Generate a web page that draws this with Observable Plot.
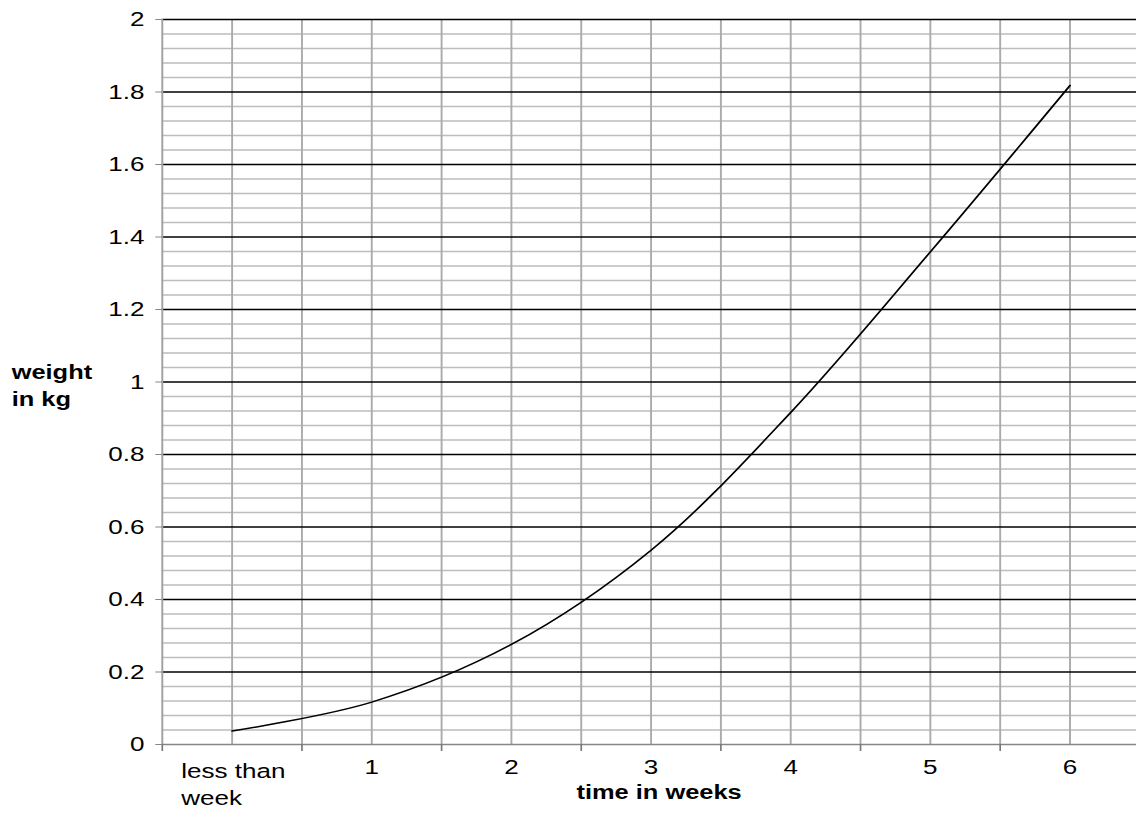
<!DOCTYPE html>
<html>
<head>
<meta charset="utf-8">
<script src="https://cdn.jsdelivr.net/npm/d3@7"></script>
<script src="https://cdn.jsdelivr.net/npm/@observablehq/plot@0.6"></script>
<style>
  html, body { margin: 0; padding: 0; overflow: hidden; background: #fff; }
  #chart { width: 897px; transform: scaleX(1.27); transform-origin: 0 0; }
</style>
</head>
<body>
<div id="chart"></div>
<script>
// ---- data ----
const categories = ["less than\nweek", "1", "2", "3", "4", "5", "6"];
const weekIndex = [0, 1, 2, 3, 4, 5, 6];
const weightKg = [0.037, 0.117, 0.276, 0.536, 0.916, 1.359, 1.818];
const yTicks = [0, 0.2, 0.4, 0.6, 0.8, 1, 1.2, 1.4, 1.6, 1.8, 2];
const yTickLabels = ["0", "0.2", "0.4", "0.6", "0.8", "1", "1.2", "1.4", "1.6", "1.8", "2"];
const xBoundaries = [-0.5, 0.5, 1.5, 2.5, 3.5, 4.5, 5.5];
const yTitle = "weight\nin kg";
const xTitle = "time in weeks";

const points = weekIndex.map((w, i) => ({x: w, y: weightKg[i]}));
const labels = weekIndex.map((w, i) => ({x: w, label: categories[i]}));
const minorY = d3.range(0, 2.0001, 0.04).map(v => +v.toFixed(2)).filter(v => Math.round(v * 100) % 20 !== 0);
const verticalGrid = d3.range(-0.5, 6.5001, 0.5);
const majorY = yTicks.filter(v => v > 0);

const font = "'Liberation Sans', Arial, sans-serif";

const chart = Plot.plot({
  width: 897,
  height: 814,
  marginLeft: 127.3,
  marginRight: 0,
  marginTop: 19,
  marginBottom: 70,
  style: {fontFamily: font, fontSize: "20.5px", color: "#000", background: "#fff"},
  x: {type: "linear", domain: [-0.5, 6.5], axis: null},
  y: {type: "linear", domain: [0, 2], axis: null},
  marks: [
    Plot.ruleY(minorY, {stroke: "#bdbdbd", strokeWidth: 1.4}),
    Plot.ruleX(verticalGrid.filter(v => v > -0.5), {stroke: "#ababab", strokeWidth: 1.5}),
    Plot.ruleY(majorY, {stroke: "#000", strokeWidth: 1.4}),
    Plot.ruleX([-0.5], {stroke: "#a0a0a0", strokeWidth: 1.5}),
    Plot.ruleY([0], {stroke: "#868686", strokeWidth: 1.6}),
    Plot.axisY(yTicks, {
      tickSize: 5, tickPadding: 9, stroke: "#868686", fill: "#000",
      fontSize: 20.5, label: null,
      tickFormat: (d, i) => yTickLabels[i]
    }),
    Plot.axisX(xBoundaries, {
      tickSize: 7, stroke: "#777", strokeWidth: 1.3, tickFormat: () => "", label: null
    }),
    Plot.line(points, {x: "x", y: "y", curve: "catmull-rom", stroke: "#000", strokeWidth: 1.5}),
    Plot.text(labels.filter((d, i) => i === 0), {
      x: "x", y: () => 0, text: "label", textAnchor: "start", dx: -40,
      lineAnchor: "top", lineHeight: 1.3, dy: 15, fontSize: 20.5, fill: "#000"
    }),
    Plot.text(labels.filter((d, i) => i > 0), {
      x: "x", y: () => 0, text: "label", textAnchor: "middle",
      lineAnchor: "top", dy: 15, fontSize: 20.5, fill: "#000"
    }),
    Plot.text([yTitle], {
      frameAnchor: "left", textAnchor: "start", dx: -118.6, dy: 2,
      lineHeight: 1.32, fontSize: 20, fontWeight: "bold", fill: "#000"
    }),
    Plot.text([xTitle], {
      frameAnchor: "bottom", dx: 6.3, dy: 54,
      fontSize: 20, fontWeight: "bold", fill: "#000"
    })
  ]
});
document.getElementById("chart").appendChild(chart);
</script>
</body>
</html>
